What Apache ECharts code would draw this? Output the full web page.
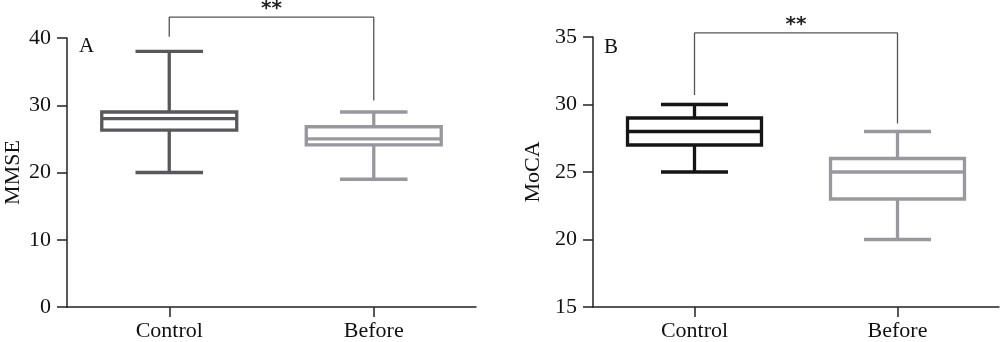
<!DOCTYPE html>
<html>
<head>
<meta charset="utf-8">
<script src="https://cdn.jsdelivr.net/npm/echarts@6/dist/echarts.min.js"></script>
<style>
  html, body { margin: 0; padding: 0; background: #fff; }
  #chart { width: 1000px; height: 342px; }
</style>
</head>
<body>
<div id="chart"></div>
<script>
// Groups on the x axis
const categories = ['Control', 'Before'];

// Box statistics per group: [min, Q1, median, Q3, max]
const mmseStats = [
  [20, 26.3, 28, 29, 38],
  [19, 24.1, 25, 26.8, 29]
];
const mocaStats = [
  [25, 27, 28, 29, 30],
  [20, 23, 25, 26, 28]
];

// Significance brackets: [left foot, bar height, right foot]
const mmseBracket = [40.2, 43.1, 30.7];
const mocaBracket = [30.7, 35.3, 28.6];
const sigLabel = '**';

// Axis ticks
const mmseTicks = { min: 0, max: 40, interval: 10 };
const mocaTicks = { min: 15, max: 35, interval: 5 };

const FONT = '"Liberation Serif", "Times New Roman", serif';
const mmseColors = ['#58585b', '#98979d'];
const mocaColors = ['#151515', '#98989e'];

function boxItem(params, api) {
  const x = api.value(0);
  const v = [1, 2, 3, 4, 5].map(i => api.value(i));
  const band = api.size([1, 0])[0];
  const half = band * 0.33;
  const capHalf = band * 0.165;
  const pMin = api.coord([x, v[0]]);
  const pQ1 = api.coord([x, v[1]]);
  const pMed = api.coord([x, v[2]]);
  const pQ3 = api.coord([x, v[3]]);
  const pMax = api.coord([x, v[4]]);
  const cx = pMed[0];
  const color = params.seriesName === 'mmse' ? mmseColors[params.dataIndex] : mocaColors[params.dataIndex];
  const style = { stroke: color, lineWidth: 3.3, fill: null };
  return {
    type: 'group',
    children: [
      { type: 'rect', shape: { x: cx - half, y: pQ3[1], width: half * 2, height: pQ1[1] - pQ3[1] }, style: Object.assign({}, style, { fill: 'none' }) },
      { type: 'line', shape: { x1: cx - half, y1: pMed[1], x2: cx + half, y2: pMed[1] }, style },
      { type: 'line', shape: { x1: cx, y1: pQ3[1], x2: cx, y2: pMax[1] }, style },
      { type: 'line', shape: { x1: cx, y1: pQ1[1], x2: cx, y2: pMin[1] }, style },
      { type: 'line', shape: { x1: cx - capHalf, y1: pMax[1], x2: cx + capHalf, y2: pMax[1] }, style },
      { type: 'line', shape: { x1: cx - capHalf, y1: pMin[1], x2: cx + capHalf, y2: pMin[1] }, style }
    ]
  };
}

function toRows(stats) {
  return stats.map((s, i) => [i].concat(s));
}

function bracketData(b) {
  return [[0, b[0]], [0, b[1]], [1, b[1]], [1, b[2]]];
}

const axisLine = { show: true, lineStyle: { color: '#222', width: 1.5 } };
const axisTick = { show: true, length: 10, lineStyle: { color: '#222', width: 1.5 } };

function xAxis(gridIndex) {
  return {
    type: 'category', gridIndex, data: categories, boundaryGap: true,
    axisLine, axisTick: Object.assign({}, axisTick, { alignWithLabel: true }),
    axisLabel: { fontFamily: FONT, fontSize: 22, color: '#111', margin: 13 },
    splitLine: { show: false }
  };
}

function yAxis(gridIndex, ticks, name, gap) {
  return {
    type: 'value', gridIndex, min: ticks.min, max: ticks.max, interval: ticks.interval,
    name, nameLocation: 'middle', nameGap: gap, nameRotate: 90,
    nameTextStyle: { fontFamily: FONT, fontSize: 22, color: '#111' },
    axisLine, axisTick,
    axisLabel: { fontFamily: FONT, fontSize: 22, color: '#111', margin: 16 },
    splitLine: { show: false }
  };
}

const bracketStyle = { color: '#555', width: 1.3 };

const chart = echarts.init(document.getElementById('chart'), null, { renderer: 'canvas' });
chart.setOption({
  animation: false,
  backgroundColor: '#fff',
  grid: [
    { left: 67, top: 38, right: 524, bottom: 33 },
    { left: 593, top: 37, right: 1, bottom: 34 }
  ],
  xAxis: [xAxis(0), xAxis(1)],
  yAxis: [yAxis(0, mmseTicks, 'MMSE', 43), yAxis(1, mocaTicks, 'MoCA', 49)],
  series: [
    { name: 'mmse', type: 'custom', xAxisIndex: 0, yAxisIndex: 0, renderItem: boxItem, data: toRows(mmseStats), encode: { x: 0, y: [1, 2, 3, 4, 5] } },
    { name: 'moca', type: 'custom', xAxisIndex: 1, yAxisIndex: 1, renderItem: boxItem, data: toRows(mocaStats), encode: { x: 0, y: [1, 2, 3, 4, 5] } },
    { type: 'line', xAxisIndex: 0, yAxisIndex: 0, data: bracketData(mmseBracket), clip: false, symbol: 'none', lineStyle: bracketStyle, silent: true },
    { type: 'line', xAxisIndex: 1, yAxisIndex: 1, data: bracketData(mocaBracket), clip: false, symbol: 'none', lineStyle: bracketStyle, silent: true }
  ]
});

// Panel letters and significance stars placed through the grid scales
function starsAt(gridIndex, bracket) {
  const a = chart.convertToPixel({ gridIndex }, [0, bracket[1]]);
  const b = chart.convertToPixel({ gridIndex }, [1, bracket[1]]);
  return { x: (a[0] + b[0]) / 2, y: a[1] };
}
const sA = starsAt(0, mmseBracket);
const sB = starsAt(1, mocaBracket);
const gA = chart.getModel().getComponent('grid', 0).coordinateSystem.getRect();
const gB = chart.getModel().getComponent('grid', 1).coordinateSystem.getRect();
const starStyle = { text: sigLabel, font: 'bold 20px "DejaVu Sans"', fill: '#222', textAlign: 'center', textVerticalAlign: 'bottom' };
const letterStyle = { font: '21px "Liberation Serif"', fill: '#111', textAlign: 'left', textVerticalAlign: 'middle' };
chart.setOption({
  graphic: [
    { type: 'text', x: sA.x, y: sA.y + 2, style: starStyle },
    { type: 'text', x: sB.x, y: sB.y + 2, style: starStyle },
    { type: 'text', x: gA.x + 12, y: gA.y + 8, style: Object.assign({ text: 'A' }, letterStyle) },
    { type: 'text', x: gB.x + 11, y: gB.y + 10, style: Object.assign({ text: 'B' }, letterStyle) }
  ]
});
</script>
</body>
</html>
